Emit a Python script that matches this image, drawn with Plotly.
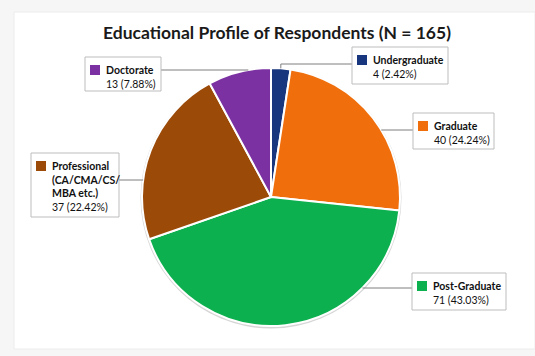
import math
import plotly.graph_objects as go

# Survey data
categories = ["Undergraduate", "Graduate", "Post-Graduate", "Professional", "Doctorate"]
counts = [4, 40, 71, 37, 13]
percent_labels = ["2.42%", "24.24%", "43.03%", "22.42%", "7.88%"]
label_titles = [
    ["Undergraduate"],
    ["Graduate"],
    ["Post-Graduate"],
    ["Professional", "(CA/CMA/CS/", "MBA etc.)"],
    ["Doctorate"],
]
colors = ["#17367d", "#f06e0c", "#0db04f", "#9b4a08", "#7b31a2"]

W, H = 535, 356
# pie geometry in pixels
CX, CY, R = 271, 197, 129

# label box top-left corners (px), box sizes and the y of each leader line
box_pos = [(352, 47), (413, 113), (412, 273), (31, 153), (85, 57)]
box_size = [(96, 37), (81, 36), (94, 37), (88, 64), (76, 34)]
line_y = [64, 130, 288, 180, 70]


def px(x):
    return x / W


def py(y):
    return 1 - y / H


fig = go.Figure(
    go.Pie(
        labels=categories,
        values=counts,
        sort=False,
        direction="clockwise",
        rotation=0,
        marker=dict(colors=colors, line=dict(color="white", width=2)),
        textinfo="none",
        hoverinfo="label+value+percent",
        showlegend=False,
        domain=dict(x=[px(CX - R), px(CX + R)], y=[py(CY + R), py(CY - R)]),
    )
)

shapes = []
# white panel on a light frame
shapes.append(dict(type="rect", xref="paper", yref="paper", x0=px(14), x1=1.0,
                   y0=py(349), y1=py(12), fillcolor="white",
                   line=dict(color="#ececec", width=1), layer="below"))
# soft rim behind the pie
shapes.append(dict(type="circle", xref="paper", yref="paper",
                   x0=px(CX - R - 1.5), x1=px(CX + R + 1.5),
                   y0=py(CY + R + 2.5), y1=py(CY - R - 0.5),
                   fillcolor="#d6d6d6", line=dict(width=0), layer="below"))

annotations = []
total = sum(counts)
cum = 0
for i, v in enumerate(counts):
    a0 = cum / total * 2 * math.pi
    a1 = (cum + v) / total * 2 * math.pi
    cum += v
    bx, by = box_pos[i]
    bw, bh = box_size[i]
    ly = line_y[i]
    mid = (a0 + a1) / 2
    right_side = math.sin(mid) > 0
    end_x = bx if right_side else bx + bw
    pts = None
    dy = ly - CY
    if abs(dy) < R:
        dx = math.sqrt(R * R - dy * dy)
        ex = CX + dx if right_side else CX - dx
        ang = math.atan2(ex - CX, CY - ly) % (2 * math.pi)
        if a0 <= ang <= a1:
            pts = [(ex, ly), (end_x, ly)]
    if pts is None:
        # slice too narrow for a straight line: elbow from the slice middle
        ex = CX + R * math.sin(mid)
        ey = CY - R * math.cos(mid)
        pts = [(ex, ey), (ex, ly), (end_x, ly)]
    path = "M " + " L ".join(f"{px(a)},{py(b)}" for a, b in pts)
    shapes.append(dict(type="path", xref="paper", yref="paper", path=path,
                       line=dict(color="#7f7f7f", width=1)))
    # box
    shapes.append(dict(type="rect", xref="paper", yref="paper",
                       x0=px(bx), x1=px(bx + bw), y0=py(by + bh), y1=py(by),
                       fillcolor="white", line=dict(color="#bdbdbd", width=1)))
    # colour key square
    shapes.append(dict(type="rect", xref="paper", yref="paper",
                       x0=px(bx + 5), x1=px(bx + 15), y0=py(by + 18), y1=py(by + 8),
                       fillcolor=colors[i], line=dict(width=0)))
    lines = [f"<b>{t}</b>" for t in label_titles[i]]
    lines.append(f"{v} ({percent_labels[i]})")
    annotations.append(dict(
        x=px(bx + 19), y=py(by + 5), xref="paper", yref="paper",
        xanchor="left", yanchor="top", align="left", showarrow=False,
        text="<br>".join(lines),
        font=dict(family="Lato, Open Sans, sans-serif", size=10.5, color="#111"),
    ))

fig.update_layout(
    width=W, height=H,
    margin=dict(l=0, r=0, t=0, b=0),
    paper_bgcolor="#f6f6f6",
    plot_bgcolor="white",
    title=dict(text="<b>Educational Profile of Respondents (N = 165)</b>",
               x=px(277), xanchor="center", y=py(33), yanchor="middle",
               font=dict(family="Lato, Open Sans, sans-serif", size=17.5, color="#1a1a1a")),
    shapes=shapes,
    annotations=annotations,
)

fig.write_html("out.html")
